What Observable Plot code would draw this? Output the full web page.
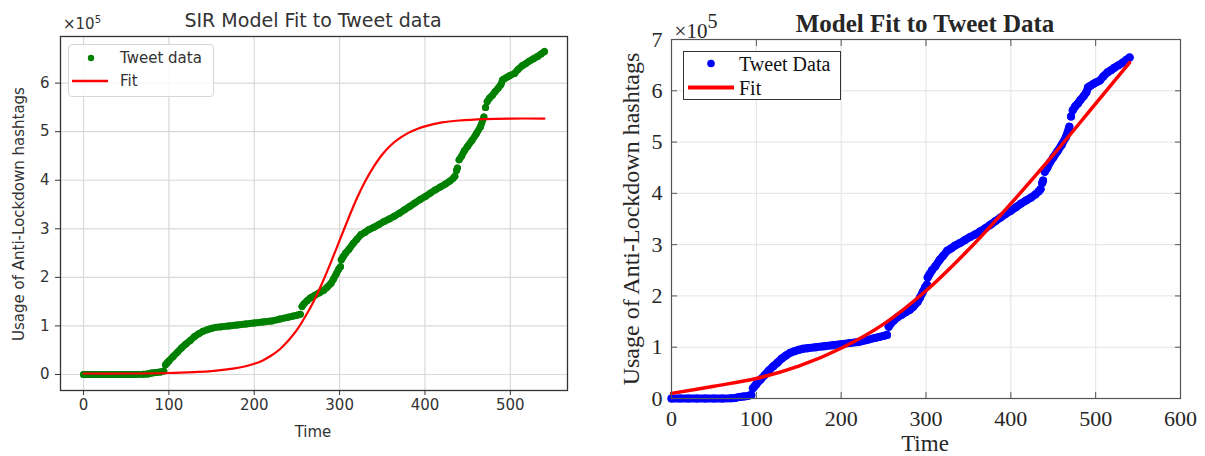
<!DOCTYPE html>
<html><head><meta charset="utf-8">
<script src="https://cdn.jsdelivr.net/npm/d3@7"></script>
<script src="https://cdn.jsdelivr.net/npm/@observablehq/plot@0.6"></script>
<style>
body{margin:0;background:#fff;}
#wrap{position:relative;width:1205px;height:456px;overflow:hidden;background:#fff;}
.panel{position:absolute;top:0;}
.t{position:absolute;white-space:nowrap;line-height:1;}
.l{font-family:"DejaVu Sans",sans-serif;color:#333;}
.r{font-family:"Liberation Serif","Times New Roman",serif;color:#262626;}
</style></head><body><div id="wrap"></div>
<script>
// Tweet data (time in days, usage count)
const tweetTime = [0,10,20,30,40,50,60,70,75,80,85,90,94,96,98,100,105,110,115,120,125,130,135,140,145,150,155,160,170,180,190,200,210,220,230,240,245,250,254,256,258,262,266,271,276,281,285,290,293,296,299,301,302,304,307,311,316,320,325,330,334,340,346,352,358,364,370,376,382,388,394,400,406,412,418,424,429,433,435,437,438,440,443,446,450,455,460,465,469,471,473,476,479,482,486,489,491,494,497,500,505,509,514,518,522,527,532,536,540];
const tweetCount = [0,0,0,0,0,0,0,500,1000,3000,4000,5000,7000,20000,24000,28000,37000,46000,55000,63000,70000,78000,84000,89000,92000,95000,97000,98000,100000,102000,104000,106000,108000,110000,114000,118000,120000,122000,124000,140000,145000,152000,158000,163000,168000,173000,179000,188000,197000,207000,217000,222000,236000,242000,250000,258000,270000,278000,288000,293000,298000,303000,309000,315000,320000,326000,332000,339000,346000,353000,360000,366000,373000,380000,386000,392000,398000,404000,408000,420000,425000,442000,450000,460000,470000,482000,495000,510000,530000,550000,562000,570000,575000,582000,590000,597000,607000,610000,613000,616000,620000,628000,636000,640000,645000,650000,655000,660000,665000];

// SIR model fit (left panel)
const sirTime = [0,50,100,130,150,175,190,200,210,220,230,240,250,260,270,280,290,300,310,320,330,340,350,360,370,380,390,400,420,440,470,500,540];
const sirFit = [2000,2000,3000,5000,7000,12000,17000,22000,29000,39000,52000,70000,92000,120000,152000,190000,232000,276000,320000,362000,398000,428000,453000,472000,486000,497000,505000,511000,519000,523000,526000,527000,527000];

// Model fit (right panel)
const modelTime = [0,50,100,150,200,250,300,350,400,450,500,540];
const modelFit = [10000,24000,39000,63000,98000,145000,210000,290000,380000,475000,575000,655000];

const xTicksLeft = [0,100,200,300,400,500];
const yTicksLeft = [0,100000,200000,300000,400000,500000,600000];
const xTicksRight = [0,100,200,300,400,500,600];
const yTicksRight = [0,100000,200000,300000,400000,500000,600000,700000];

const tweets = tweetTime.map((t,i)=>({t, v: tweetCount[i]}));
let seg = 0;
tweets.forEach((d,i)=>{ if(i>0){const p=tweets[i-1]; if((d.v-p.v)/(d.t-p.t) > 5500) seg++;} d.seg = seg; });
const sir = sirTime.map((t,i)=>({t, v: sirFit[i]}));
const model = modelTime.map((t,i)=>({t, v: modelFit[i]}));
const fmt = d => String(d/1e5);

const wrap = document.getElementById("wrap");

const left = Plot.plot({
  width: 600, height: 456,
  marginTop: 36, marginLeft: 60, marginRight: 33, marginBottom: 66,
  style: {fontFamily: "DejaVu Sans, sans-serif", fontSize: "15px", color: "#333", background: "transparent"},
  x: {domain: [-27, 567]},
  y: {domain: [-33000, 696000]},
  marks: [
    Plot.gridX(xTicksLeft, {stroke: "#d9d9d9", strokeOpacity: 1, strokeWidth: 1.2}),
    Plot.gridY(yTicksLeft, {stroke: "#d9d9d9", strokeOpacity: 1, strokeWidth: 1.2}),
    Plot.line(tweets, {x: "t", y: "v", z: "seg", stroke: "green", strokeWidth: 7, strokeLinecap: "round"}),
    Plot.dot(tweets, {x: "t", y: "v", r: 3.5, fill: "green", stroke: "none"}),
    Plot.line(sir, {x: "t", y: "v", stroke: "red", strokeWidth: 2.2, curve: "catmull-rom"}),
    Plot.frame({stroke: "#333", strokeWidth: 1.3}),
    Plot.axisX(xTicksLeft, {tickSize: 5, tickPadding: 4, label: null, stroke: "#333"}),
    Plot.axisY(yTicksLeft, {tickSize: 5, tickPadding: 6, label: null, tickFormat: fmt, stroke: "#333"})
  ]
});
left.classList.add("panel"); left.style.left = "0px";
wrap.appendChild(left);

const right = Plot.plot({
  width: 605, height: 456,
  marginTop: 39, marginLeft: 71, marginRight: 25, marginBottom: 58,
  style: {fontFamily: "Liberation Serif, Times New Roman, serif", fontSize: "22px", color: "#262626", background: "transparent"},
  x: {domain: [0, 600]},
  y: {domain: [0, 700000]},
  marks: [
    Plot.gridX(xTicksRight, {stroke: "#e3e3e3", strokeOpacity: 1, strokeWidth: 1}),
    Plot.gridY(yTicksRight, {stroke: "#e3e3e3", strokeOpacity: 1, strokeWidth: 1}),
    Plot.line(tweets, {x: "t", y: "v", z: "seg", stroke: "blue", strokeWidth: 8, strokeLinecap: "round"}),
    Plot.dot(tweets, {x: "t", y: "v", r: 4, fill: "blue", stroke: "none"}),
    Plot.line(model, {x: "t", y: "v", stroke: "red", strokeWidth: 3.5, curve: "catmull-rom"}),
    Plot.frame({stroke: "#555", strokeWidth: 1.2}),
    Plot.axisX(xTicksRight, {tickSize: 0, tickPadding: 12, label: null}),
    Plot.axisY(yTicksRight, {tickSize: 0, tickPadding: 9, label: null, tickFormat: fmt}),
    Plot.axisX(xTicksRight, {tickSize: -6, text: null, label: null, stroke: "#555"}),
    Plot.axisY(yTicksRight, {tickSize: -6, text: null, label: null, stroke: "#555"}),
    Plot.axisX(xTicksRight, {anchor: "top", tickSize: -6, text: null, label: null, stroke: "#555"}),
    Plot.axisY(yTicksRight, {anchor: "right", tickSize: -6, text: null, label: null, stroke: "#555"})
  ]
});
right.classList.add("panel"); right.style.left = "600px";
wrap.appendChild(right);

function addText(html, cls, x, y, size, extra) {
  const d = document.createElement("div");
  d.className = "t " + cls;
  d.innerHTML = html;
  d.style.left = x + "px"; d.style.top = y + "px"; d.style.fontSize = size + "px";
  d.style.transform = "translate(-50%,-50%)" + (extra || "");
  wrap.appendChild(d);
  return d;
}
// Left panel texts
addText("SIR Model Fit to Tweet data", "l", 313, 20, 19);
addText("Time", "l", 313, 432, 15);
addText("Usage of Anti-Lockdown hashtags", "l", 19, 214, 15, " rotate(-90deg)");
addText("×10<sup style='font-size:10px;vertical-align:6px'>5</sup>", "l", 82, 23, 15);
// Right panel texts
addText("<b>Model Fit to Tweet Data</b>", "r", 925, 23, 25, "");
addText("Time", "r", 925, 443, 23);
addText("Usage of Anti-Lockdown hashtags", "r", 631, 219, 24, " rotate(-90deg)");
addText("×10<sup style='font-size:20px;vertical-align:10px'>5</sup>", "r", 696, 26, 21);

// Legends
function legend(cls, box, items) {
  const d = document.createElement("div");
  d.className = "t " + cls;
  Object.assign(d.style, box);
  d.innerHTML = items;
  wrap.appendChild(d);
}
legend("l", {left:"68px", top:"44px", width:"146px", height:"53px", border:"1px solid #d6d6d6", borderRadius:"4px", background:"rgba(255,255,255,0.85)", boxSizing:"border-box"},
  `<svg width="146" height="53" style="position:absolute;left:-1px;top:-1px">
     <circle cx="23" cy="14" r="3.2" fill="green"/>
     <line x1="4" x2="40" y1="37" y2="37" stroke="red" stroke-width="2.5"/>
     <text x="52" y="14" dy="0.35em" font-size="15" fill="#333">Tweet data</text>
     <text x="52" y="37" dy="0.35em" font-size="15" fill="#333">Fit</text>
   </svg>`);
legend("r", {left:"683px", top:"51px", width:"158px", height:"49px", border:"1px solid #333", background:"#fff", boxSizing:"border-box"},
  `<svg width="158" height="49" style="position:absolute;left:-1px;top:-1px">
     <circle cx="28" cy="12.5" r="3.8" fill="blue"/>
     <line x1="5" x2="51" y1="36.5" y2="36.5" stroke="red" stroke-width="4"/>
     <text x="56" y="12.5" dy="0.35em" font-size="20" fill="#111">Tweet Data</text>
     <text x="56" y="37" dy="0.35em" font-size="20" fill="#111">Fit</text>
   </svg>`);
</script></body></html>
